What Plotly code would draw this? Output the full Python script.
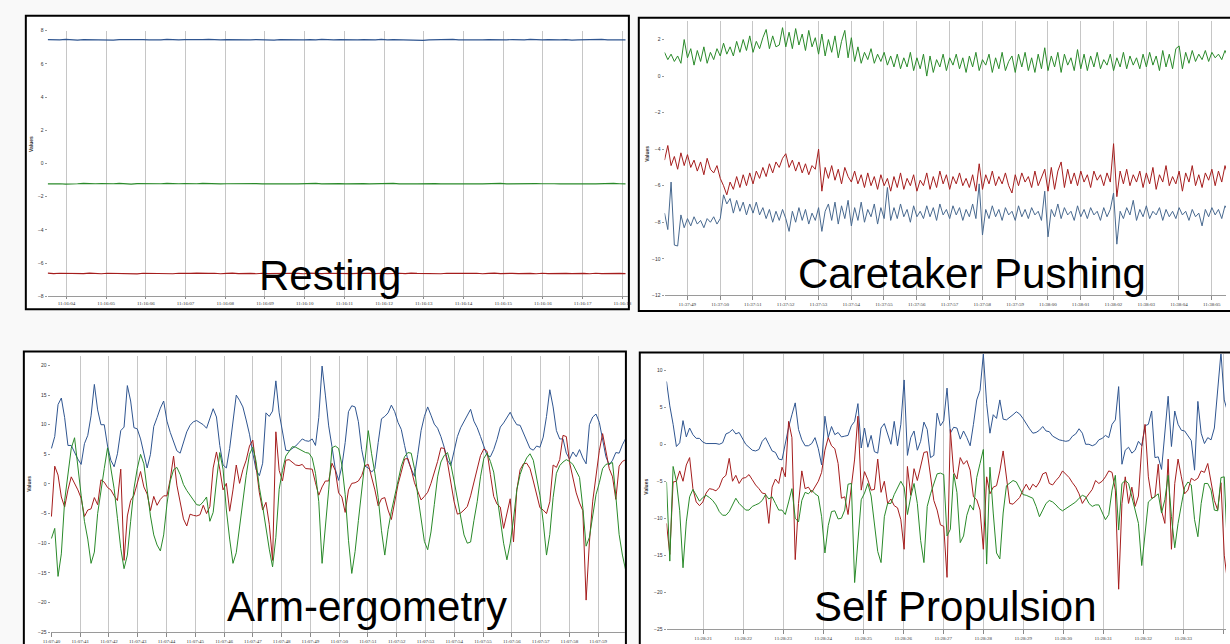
import numpy as np
import pandas as pd
import plotly.graph_objects as go

W, H = 1230, 644
DAY = "2021-03-15 "

# ---------------- DATA ----------------
# Panel 1: Resting (sampled every 0.15 s from 11:16:03.53)
rest_start, rest_dt = "11:16:03.53", 0.15
rest_ticks = ["11:16:04", "11:16:05", "11:16:06", "11:16:07", "11:16:08", "11:16:09", "11:16:10",
              "11:16:11", "11:16:12", "11:16:13", "11:16:14", "11:16:15", "11:16:16", "11:16:17", "11:16:18"]
rest_blue = [7.46,7.44,7.45,7.47,7.44,7.43,7.46,7.45,7.48,7.44,
             7.45,7.43,7.46,7.47,7.44,7.45,7.46,7.44,7.43,7.45,
             7.47,7.45,7.44,7.46,7.45,7.43,7.46,7.48,7.45,7.44,
             7.46,7.45,7.47,7.44,7.45,7.46,7.44,7.45,7.43,7.46,
             7.45,7.47,7.44,7.45,7.46,7.44,7.47,7.45,7.44,7.46,
             7.45,7.43,7.45,7.46,7.44,7.45,7.47,7.44,7.46,7.45,
             7.44,7.46,7.45,7.42,7.45,7.46,7.44,7.45,7.47,7.45,
             7.44,7.46,7.45,7.44,7.46,7.45,7.43,7.45,7.46,7.44,
             7.45,7.47,7.44,7.45,7.46,7.44,7.45,7.46,7.43,7.45,
             7.46,7.44,7.45,7.47,7.45,7.44,7.46,7.45]
rest_green = [-1.23,-1.21,-1.22,-1.24,-1.21,-1.22,-1.20,-1.23,-1.22,-1.21,
              -1.23,-1.22,-1.20,-1.22,-1.24,-1.21,-1.22,-1.23,-1.21,-1.22,
              -1.20,-1.23,-1.22,-1.21,-1.23,-1.22,-1.20,-1.22,-1.21,-1.23,
              -1.22,-1.21,-1.23,-1.20,-1.22,-1.21,-1.23,-1.22,-1.21,-1.22,
              -1.20,-1.22,-1.23,-1.21,-1.22,-1.20,-1.23,-1.21,-1.22,-1.21,
              -1.23,-1.22,-1.20,-1.21,-1.23,-1.22,-1.21,-1.22,-1.20,-1.23,
              -1.21,-1.22,-1.23,-1.21,-1.22,-1.21,-1.23,-1.22,-1.20,-1.22,
              -1.23,-1.21,-1.22,-1.23,-1.21,-1.22,-1.20,-1.23,-1.22,-1.21,
              -1.22,-1.23,-1.21,-1.22,-1.20,-1.22,-1.23,-1.21,-1.22,-1.23,
              -1.21,-1.22,-1.23,-1.21,-1.22,-1.20,-1.22,-1.23]
rest_red = [-6.60,-6.63,-6.61,-6.62,-6.64,-6.61,-6.63,-6.60,-6.62,-6.64,
            -6.61,-6.62,-6.60,-6.63,-6.62,-6.65,-6.61,-6.62,-6.63,-6.60,
            -6.62,-6.64,-6.61,-6.63,-6.62,-6.60,-6.63,-6.62,-6.61,-6.64,
            -6.62,-6.60,-6.63,-6.61,-6.62,-6.64,-6.61,-6.63,-6.62,-6.60,
            -6.63,-6.61,-6.62,-6.64,-6.60,-6.62,-6.63,-6.61,-6.62,-6.64,
            -6.61,-6.63,-6.62,-6.60,-6.62,-6.63,-6.61,-6.64,-6.62,-6.61,
            -6.63,-6.60,-6.62,-6.63,-6.61,-6.62,-6.64,-6.61,-6.62,-6.60,
            -6.63,-6.62,-6.61,-6.64,-6.62,-6.60,-6.63,-6.61,-6.62,-6.63,
            -6.61,-6.62,-6.64,-6.61,-6.63,-6.62,-6.60,-6.62,-6.63,-6.61,
            -6.62,-6.64,-6.61,-6.63,-6.62,-6.60,-6.62,-6.63]

# Panel 2: Caretaker Pushing (every 0.1 s from 11:37:48.305)
car_start, car_dt = "11:37:48.305", 0.1
car_ticks = ["11:37:49", "11:37:50", "11:37:51", "11:37:52", "11:37:53", "11:37:54", "11:37:55",
             "11:37:56", "11:37:57", "11:37:58", "11:37:59", "11:38:00", "11:38:01", "11:38:02",
             "11:38:03", "11:38:04", "11:38:05"]
car_green = [1.3,0.9,1.2,0.8,1.1,0.7,2.0,1.0,1.5,0.6,
             1.4,0.8,1.6,0.7,1.3,0.9,1.5,1.1,1.8,1.2,
             1.6,1.1,1.9,1.3,2.0,1.4,2.2,1.3,1.9,1.5,
             2.1,2.55,1.5,2.2,1.6,1.7,2.65,1.6,2.4,1.5,
             2.6,1.7,2.3,1.4,2.5,1.6,2.1,1.2,2.3,1.1,
             2.0,1.3,2.2,1.0,1.9,2.5,1.0,2.1,0.8,1.6,
             0.7,1.3,0.9,1.5,0.7,1.2,0.8,1.3,0.6,1.1,
             0.5,1.2,0.4,1.0,0.5,1.3,0.3,1.0,0.4,1.2,
             0.0,1.1,0.2,0.9,0.5,1.2,0.3,1.0,0.6,1.2,
             0.4,1.0,0.2,1.1,0.5,1.3,0.3,0.9,0.6,1.2,
             0.2,1.0,0.4,1.3,0.3,0.8,1.1,0.2,1.2,0.5,
             1.3,0.3,1.0,0.2,1.2,0.4,1.55,0.3,1.1,0.5,
             1.3,0.2,1.2,0.6,1.0,0.3,1.45,0.4,1.2,0.3,
             1.1,0.5,1.3,0.4,0.9,0.6,1.2,0.3,1.0,0.5,
             1.3,0.4,1.1,0.6,1.0,0.4,1.2,0.5,1.3,0.6,
             1.1,0.3,1.4,0.5,1.2,0.4,1.5,1.65,0.4,1.3,
             0.7,1.4,0.8,1.2,0.9,1.4,0.8,1.3,1.0,1.2,
             0.9,1.4,1.0]
car_red = [-4.6,-3.8,-4.9,-4.4,-5.1,-4.2,-4.9,-4.3,-5.0,-4.6,
           -5.2,-4.7,-5.4,-4.5,-5.1,-5.3,-4.9,-5.6,-6.0,-6.5,
           -5.8,-6.2,-5.5,-6.1,-5.4,-6.0,-5.3,-5.9,-5.2,-5.6,
           -5.0,-5.5,-4.8,-5.3,-4.7,-5.0,-4.5,-4.25,-5.0,-4.6,
           -5.2,-4.7,-5.3,-4.8,-5.4,-4.9,-5.1,-4.0,-6.3,-5.0,
           -5.6,-4.9,-5.7,-5.1,-5.9,-5.0,-5.5,-5.8,-5.2,-5.9,
           -5.4,-6.1,-5.3,-6.0,-5.5,-6.2,-5.4,-6.0,-5.6,-6.3,
           -5.5,-6.1,-5.3,-6.2,-5.6,-6.0,-5.4,-6.3,-5.7,-6.0,
           -5.3,-6.2,-5.5,-6.1,-5.2,-5.9,-5.4,-6.2,-5.5,-5.9,
           -5.3,-6.0,-5.6,-6.1,-5.4,-6.3,-4.8,-6.2,-5.4,-5.9,
           -5.2,-6.0,-5.5,-5.9,-5.3,-6.0,-6.4,-5.4,-6.0,-5.3,
           -5.8,-5.5,-6.1,-5.2,-6.0,-5.6,-5.1,-6.3,-5.0,-6.2,
           -5.2,-4.7,-6.1,-5.1,-5.9,-5.3,-6.0,-5.2,-5.8,-5.4,
           -6.1,-5.2,-5.7,-5.4,-6.0,-5.3,-5.8,-3.7,-6.6,-5.2,
           -5.9,-5.1,-6.0,-5.4,-5.8,-5.2,-6.1,-5.3,-5.9,-5.0,
           -6.2,-5.4,-5.8,-4.9,-6.0,-5.5,-5.9,-5.2,-6.3,-5.3,
           -5.8,-4.9,-6.0,-5.4,-6.1,-5.3,-5.7,-5.1,-6.0,-5.2,
           -5.8,-4.9,-5.5]
car_blue = [-7.5,-8.4,-5.8,-9.25,-9.3,-7.6,-8.3,-7.8,-8.2,-7.7,
            -8.1,-7.9,-8.3,-7.8,-8.0,-7.7,-8.1,-7.8,-6.5,-7.0,
            -6.7,-7.5,-6.8,-7.4,-6.9,-7.6,-7.0,-7.5,-6.9,-7.6,
            -7.2,-7.8,-7.3,-8.0,-7.4,-7.9,-7.3,-7.8,-8.5,-7.4,
            -8.0,-7.2,-7.9,-7.3,-8.1,-7.5,-7.9,-7.2,-8.5,-7.4,
            -7.0,-7.9,-6.9,-8.1,-7.1,-7.8,-6.8,-8.2,-7.2,-7.9,
            -6.9,-8.0,-7.3,-7.7,-7.0,-8.1,-7.2,-7.8,-6.1,-7.9,
            -7.2,-7.8,-7.0,-7.7,-7.3,-8.0,-7.1,-7.7,-7.4,-7.8,
            -7.1,-7.7,-7.2,-7.9,-7.0,-7.6,-7.3,-7.8,-7.1,-7.6,
            -7.2,-7.9,-7.3,-7.7,-7.0,-7.8,-5.9,-8.7,-7.3,-7.8,
            -7.1,-7.7,-7.3,-7.9,-7.2,-7.6,-7.4,-7.9,-7.1,-7.7,
            -7.3,-7.8,-7.2,-7.6,-7.4,-7.9,-6.3,-8.8,-7.3,-7.7,
            -7.0,-7.8,-7.2,-7.6,-7.4,-7.9,-7.1,-7.7,-7.3,-7.8,
            -7.2,-7.6,-7.4,-7.9,-7.2,-7.7,-7.3,-6.4,-9.2,-7.4,
            -7.8,-7.2,-7.6,-6.8,-7.9,-7.3,-7.7,-7.1,-7.8,-7.4,
            -7.6,-7.2,-7.9,-7.3,-7.7,-7.4,-7.8,-7.2,-7.6,-7.4,
            -7.9,-7.3,-7.7,-7.5,-8.2,-7.3,-7.7,-7.2,-7.6,-7.3,
            -7.8,-7.1,-7.4]

# Panel 3: Arm-ergometry (every 0.1147 s from 11:07:40)
arm_start, arm_dt = "11:07:40", 0.1147
arm_ticks = ["11:07:40", "11:07:41", "11:07:42", "11:07:43", "11:07:44", "11:07:45", "11:07:46",
             "11:07:47", "11:07:48", "11:07:49", "11:07:50", "11:07:51", "11:07:52", "11:07:53",
             "11:07:54", "11:07:55", "11:07:56", "11:07:57", "11:07:58", "11:07:59"]
arm_blue = [6.0,8.0,13.4,14.5,11.2,6.5,6.5,5.3,4.2,3.3,
            6.8,8.2,11.5,16.8,12.5,10.0,10.0,6.4,4.0,2.9,
            5.1,9.0,9.6,16.6,14.0,9.5,9.3,7.6,5.4,2.7,
            5.0,9.7,11.2,12.8,14.0,10.6,8.7,7.3,5.6,5.2,
            7.2,8.8,9.9,10.5,10.7,10.4,10.0,9.4,11.2,12.7,
            11.3,6.5,3.2,2.7,6.0,11.0,15.0,14.1,13.0,10.8,
            8.4,5.2,2.4,1.4,3.5,12.0,11.4,12.3,17.4,12.0,
            8.8,5.7,5.6,6.0,6.4,7.0,7.6,7.3,7.2,7.6,
            6.5,11.2,19.9,15.0,9.8,6.3,2.5,0.6,3.0,7.0,
            12.2,13.2,13.0,10.5,5.8,3.0,2.7,2.0,2.6,7.0,
            11.0,11.4,12.0,13.3,12.2,10.4,9.2,6.5,4.0,2.5,
            1.3,5.0,9.0,11.4,13.0,11.6,10.1,9.4,8.0,6.2,
            4.0,3.1,5.8,8.0,9.5,10.5,11.7,12.6,10.6,9.5,
            8.0,6.3,4.8,4.6,5.8,7.5,9.6,10.3,11.2,12.1,
            10.9,10.0,9.9,8.6,7.0,6.0,5.7,6.4,6.2,7.9,
            11.4,15.9,13.0,9.0,7.6,7.6,5.2,4.2,5.4,4.6,
            5.8,4.4,3.4,10.0,11.3,11.8,10.4,7.2,4.6,3.2,
            4.0,5.3,5.2,6.6,7.7]
arm_green = [-9.2,-7.5,-15.6,-11.8,-2.8,1.8,6.0,7.8,2.7,-1.9,
             -6.3,-9.3,-13.4,-11.5,-5.0,-0.8,2.6,6.1,3.0,-0.8,
             -5.8,-10.9,-14.3,-12.0,-6.3,-0.8,2.6,5.0,3.4,-1.3,
             -5.4,-8.6,-10.3,-11.3,-8.6,-3.4,0.5,2.4,2.8,1.6,
             -0.1,-1.1,-1.8,-2.7,-3.5,-3.6,-3.0,-2.2,-6.3,-4.8,
             0.5,5.3,2.5,-4.4,-9.3,-13.4,-11.6,-7.2,-2.7,1.4,
             5.0,6.2,3.8,-0.6,-3.8,-7.5,-11.0,-14.0,-9.0,-0.9,
             2.3,4.7,5.6,6.3,6.2,5.9,5.5,5.3,5.2,4.4,
             1.8,-3.0,-13.4,-7.5,-1.0,6.1,6.4,6.0,3.2,-1.8,
             -9.5,-15.1,-11.4,-6.2,-1.2,4.8,9.0,5.1,1.8,-2.3,
             -7.9,-12.0,-7.7,-4.6,-2.0,0.7,3.0,4.6,5.3,5.2,
             2.6,-2.0,-5.6,-9.7,-11.1,-8.1,-3.5,1.2,3.7,4.8,
             5.3,3.3,0.5,-2.6,-5.9,-8.6,-10.0,-9.8,-6.2,-3.0,
             1.2,4.3,5.2,3.8,2.0,-1.8,-5.8,-10.0,-12.8,-10.0,
             -5.9,-1.0,1.6,3.2,4.4,5.1,4.0,1.3,-1.9,-6.4,
             -12.0,-8.5,-2.3,1.8,3.1,3.7,4.1,3.8,3.3,2.2,
             1.1,-4.0,-10.5,-9.0,-5.0,-1.8,0.2,2.6,3.3,3.5,
             3.6,-2.0,-8.5,-12.0,-14.6]
arm_red = [-5.5,3.0,1.5,-2.2,-3.9,-1.0,1.2,0.1,-1.0,-2.4,
           -5.5,-4.4,-4.2,-2.3,-3.5,0.7,0.3,-0.6,-1.0,-2.0,
           -2.8,2.5,-12.9,-5.4,-2.8,-1.9,0.0,2.1,-0.5,-1.7,
           -4.5,-2.1,-3.6,-2.6,-2.0,-2.0,0.8,4.7,-0.2,-3.2,
           -5.9,-7.1,-5.1,-5.3,-5.4,-5.2,-3.6,-5.0,-3.8,2.7,
           5.4,2.5,-1.0,0.1,-4.6,-1.0,3.2,0.1,2.4,4.0,
           6.4,7.4,3.0,-1.5,-4.4,-3.1,-6.8,-12.9,8.8,2.3,
           0.5,4.0,4.1,3.7,3.2,3.1,3.3,2.6,2.6,2.5,
           0.2,-1.9,-0.5,0.5,0.5,3.5,2.3,-1.5,-2.2,-4.8,
           -1.0,0.1,0.2,0.5,1.4,3.1,3.3,1.2,-1.0,-3.7,
           -2.5,-2.3,-4.4,-6.0,-3.1,-0.1,2.0,4.2,4.3,2.5,
           0.2,-1.4,-2.7,-2.1,-1.4,0.1,1.9,3.8,6.1,6.0,
           3.6,0.5,-3.0,-5.1,-4.9,-4.4,-3.8,-2.0,0.3,2.9,
           4.8,5.9,5.5,1.6,-2.1,-3.4,-3.9,-7.5,-5.0,-2.5,
           -9.8,-1.0,2.4,3.4,3.5,2.6,0.5,-2.0,-4.0,-4.4,
           -5.0,-3.0,3.2,2.8,4.1,8.2,8.0,3.6,1.2,-1.5,
           -3.2,-4.5,-19.6,-9.8,-2.9,1.8,5.6,8.5,5.7,2.6,
           1.2,-2.6,3.0,3.8,4.1]

# Panel 4: Self Propulsion (every 0.0825 s from 11:28:20.084)
sp_start, sp_dt = "11:28:20.084", 0.0825
sp_ticks = ["11:28:21", "11:28:22", "11:28:23", "11:28:24", "11:28:25", "11:28:26", "11:28:27",
            "11:28:28", "11:28:29", "11:28:30", "11:28:31", "11:28:32", "11:28:33", "11:28:34"]
sp_blue = [8.5,5.2,2.7,-0.3,0.2,3.2,1.0,2.2,1.3,0.8,
           0.8,0.3,0.1,0.1,0.2,0.1,0.0,0.2,1.4,1.6,
           2.0,1.4,1.6,0.8,0.0,-0.4,-0.8,-0.9,-0.7,0.4,
           0.9,0.0,-0.9,-1.1,-2.0,-2.1,0.2,2.3,4.0,5.6,
           2.0,0.6,-0.2,-0.2,0.1,0.9,-0.6,-2.8,3.8,0.9,
           2.4,1.3,1.6,1.0,1.1,1.2,2.5,3.1,5.5,-0.5,
           2.2,-0.4,1.2,-1.0,-1.2,2.2,2.8,1.4,0.0,3.1,
           -0.2,2.7,8.7,-1.5,0.9,1.8,-0.8,0.4,3.0,2.0,
           -1.8,-1.5,4.2,2.5,3.2,7.6,1.5,2.3,2.2,0.7,
           1.8,0.9,-0.2,2.7,6.0,7.3,12.2,5.5,1.5,4.0,
           3.5,6.0,3.4,3.3,3.6,4.0,4.4,4.1,3.5,2.7,
           2.1,1.5,1.6,1.9,2.4,1.8,1.7,1.1,0.8,0.6,
           0.5,0.4,0.5,1.1,1.4,2.1,1.5,0.0,0.0,-0.2,
           0.0,0.6,0.8,1.2,0.9,2.7,3.3,7.8,-2.7,-0.8,
           -0.4,-1.2,-0.8,0.4,-0.2,2.5,2.7,4.5,-1.8,-1.7,
           -3.4,1.5,6.5,-0.3,4.5,2.7,1.9,1.8,1.2,0.5,
           -3.5,5.8,1.5,0.1,0.9,0.6,2.2,7.6,12.4,6.0,
           4.4]
sp_green = [-5.1,-15.8,-3.0,-5.0,-9.0,-16.7,-10.5,-7.1,-6.1,-7.0,
            -7.7,-7.2,-6.9,-7.2,-7.6,-8.2,-9.1,-9.6,-9.6,-9.1,
            -8.3,-7.3,-8.0,-8.4,-8.9,-8.9,-8.4,-8.2,-8.0,-7.6,
            -6.8,-7.4,-7.1,-8.0,-8.9,-8.9,-9.5,-7.8,-6.0,-10.0,
            -10.5,-7.6,-6.5,-6.7,-6.2,-6.7,-7.0,-9.8,-14.7,-11.0,
            -9.1,-9.0,-10.1,-10.0,-8.9,-5.4,-5.3,-18.7,-13.5,-7.5,
            -6.6,-5.3,-7.0,-11.0,-14.5,-16.0,-9.8,-8.0,-8.0,-6.8,
            -5.8,-5.0,-5.8,-9.5,-7.1,-5.3,-8.0,-13.0,-16.0,-8.4,
            -6.7,-5.3,-4.0,-3.9,-4.1,-12.4,-11.5,-4.0,-6.5,-13.3,
            -12.4,-9.6,-8.2,-8.9,-4.5,-2.6,-0.7,-16.2,-3.1,-9.3,
            -14.7,-15.5,-9.3,-5.6,-5.3,-4.9,-5.1,-5.9,-6.8,-6.9,
            -7.1,-7.3,-8.4,-9.8,-8.9,-8.0,-7.6,-7.8,-8.2,-8.7,
            -9.0,-8.7,-8.4,-8.2,-7.8,-7.3,-6.9,-7.1,-8.0,-8.4,
            -8.2,-8.2,-9.2,-10.2,-9.5,-6.2,-4.2,-11.6,-5.3,-4.9,
            -5.3,-7.1,-9.3,-10.7,-16.4,-12.4,-7.8,-7.4,-7.1,-6.7,
            -9.3,-7.5,-4.2,-9.8,-14.0,-10.7,-8.2,-5.8,-5.1,-5.5,
            -10.2,-12.5,-8.0,-5.3,-5.3,-6.2,-8.9,-9.0,-4.5,-4.4,
            -14.7]
sp_red = [-10.7,-14.9,-5.1,-5.0,-3.6,-5.0,-2.8,-1.8,-6.0,-7.8,
          -8.3,-7.8,-6.6,-6.0,-6.1,-6.3,-5.8,-4.6,-4.2,-1.9,
          -5.0,-4.2,-5.3,-4.6,-4.5,-4.1,-4.8,-5.5,-6.0,-6.6,
          -6.7,-10.7,-5.8,-4.7,-5.3,-3.1,-4.4,3.1,0.9,-15.6,
          -8.0,-3.6,-6.0,-5.8,-6.5,-5.8,-5.0,-3.8,-0.8,0.9,
          -0.2,-0.6,-2.6,-7.3,-7.1,-9.5,-5.7,-2.0,3.8,-6.2,
          -3.7,-4.8,-6.2,-6.1,-2.0,-6.5,-5.0,-8.0,-7.4,-8.3,
          -8.6,-10.2,-14.2,-3.0,-6.9,-3.3,-4.9,-2.9,-1.1,-1.0,
          -4.6,-7.6,-8.9,-10.9,-11.1,-18.0,2.0,-3.8,-4.7,-1.8,
          -2.7,-2.2,-3.5,-7.1,-7.5,-8.9,-14.2,-4.4,-6.7,-5.8,
          -5.6,-3.6,-0.9,-4.5,-8.0,-8.1,-7.7,-7.2,-6.2,-5.4,
          -6.2,-5.4,-5.8,-5.1,-4.0,-3.8,-5.3,-5.5,-4.9,-4.4,
          -3.6,-4.0,-4.5,-5.2,-5.8,-6.7,-8.0,-7.3,-6.7,-6.1,
          -4.9,-5.3,-5.0,-4.4,-3.6,-3.8,-6.2,-19.6,-8.0,-4.4,
          -8.0,-5.8,-8.4,-7.0,-0.4,2.7,-4.4,-7.3,-7.1,-2.7,
          -9.0,-10.7,-2.0,-14.2,-5.3,-2.0,-4.4,-6.7,-6.2,-4.6,
          -4.9,-4.6,-3.6,-3.8,-2.6,-4.9,-7.6,-8.9,-5.2,-15.0,
          -18.7]

# ---------------- HELPERS ----------------
def times(start, dt, n):
    return pd.Timestamp(DAY + start) + pd.to_timedelta(np.arange(n) * dt, unit="s")

def fx(px):
    return px / W

def fy(py):
    return 1 - py / H

BLUE, GREEN, RED = "#2f5590", "#2a8a2a", "#a51d1d"
GRID = "#c6c6c6"
TICKFONT = dict(family="Liberation Serif, Times New Roman, serif", size=5, color="#333")
YFONT = dict(family="Liberation Sans, Arial, sans-serif", size=5, color="#333")
LABELFONT = dict(family="Liberation Sans, Arial, sans-serif", size=42, color="black")

panels = [
    # name, start, dt, ticks, series, plot box (l, r, top, bottom), y range, y ticks, x range, border box, label pos, Values pos
    dict(label="Resting", start=rest_start, dt=rest_dt, ticks=rest_ticks,
         series=[(rest_blue, BLUE), (rest_red, RED), (rest_green, GREEN)], lw=1.2,
         box=(40, 626, 28, 297), yr=[-8, 8], yt=[-8, -6, -4, -2, 0, 2, 4, 6, 8],
         xr=("11:16:03.526", "11:16:18.14"), border=(18, 627, 13, 310),
         lab=(325, 276), val=(23, 143), xticks_out=False),
    dict(label="Caretaker Pushing", start=car_start, dt=car_dt, ticks=car_ticks,
         series=[(car_blue, "#48698f"), (car_red, RED), (car_green, GREEN)], lw=1.0,
         box=(663, 1230, 18.5, 296), yr=[-12, 3.0], yt=[-12, -10, -8, -6, -4, -2, 0, 2],
         xr=("11:37:48.305", "11:38:05.435"), border=(637, 1245, 15, 312),
         lab=(974, 274), val=(645, 153), xticks_out=True),
    dict(label="Arm-ergometry", start=arm_start, dt=arm_dt, ticks=arm_ticks,
         series=[(arm_blue, BLUE), (arm_red, RED), (arm_green, GREEN)], lw=1.0,
         box=(43, 623, 357, 637), yr=[-25, 21.67], yt=[-25, -20, -15, -10, -5, 0, 5, 10, 15, 20],
         xr=("11:07:39.97", "11:07:59.93"), border=(16, 624, 353, 660),
         lab=(363, 611), val=(21, 487), xticks_out=True),
    dict(label="Self Propulsion", start=sp_start, dt=sp_dt, ticks=sp_ticks,
         series=[(sp_blue, BLUE), (sp_red, RED), (sp_green, GREEN)], lw=1.0,
         box=(665, 1230, 355.5, 634), yr=[-25, 12.2], yt=[-25, -20, -15, -10, -5, 0, 5, 10],
         xr=("11:28:20.084", "11:28:34.07"), border=(638, 1245, 354, 660),
         lab=(957, 611), val=(644, 490), xticks_out=True),
]

fig = go.Figure()
layout = dict(width=W, height=H, margin=dict(l=0, r=0, t=0, b=0),
              paper_bgcolor="#f9f9f9", plot_bgcolor="rgba(0,0,0,0)",
              showlegend=False, shapes=[], annotations=[])

for k, p in enumerate(panels, start=1):
    xa = "x" if k == 1 else f"x{k}"
    ya = "y" if k == 1 else f"y{k}"
    for vals, col in p["series"]:
        fig.add_trace(go.Scatter(x=times(p["start"], p["dt"], len(vals)), y=vals,
                                 mode="lines", line=dict(color=col, width=p["lw"]),
                                 xaxis=xa, yaxis=ya, hoverinfo="skip"))
    l, r, t, b = p["box"]
    layout["xaxis" if k == 1 else f"xaxis{k}"] = dict(
        type="date", domain=[fx(l), fx(r)], anchor=ya,
        range=[DAY + p["xr"][0], DAY + p["xr"][1]],
        tickmode="array", tickvals=[DAY + s for s in p["ticks"]], ticktext=p["ticks"],
        showgrid=True, gridcolor=GRID, gridwidth=1, zeroline=False,
        showline=True, linecolor="#9a9a9a", linewidth=1,
        ticks="outside", ticklen=4 if p["xticks_out"] else 2, tickcolor="#8a8a8a",
        tickfont=TICKFONT, fixedrange=True)
    layout["yaxis" if k == 1 else f"yaxis{k}"] = dict(
        domain=[fy(b), fy(t)], anchor=xa, range=p["yr"],
        tickmode="array", tickvals=p["yt"], showgrid=False, zeroline=False,
        showline=False, ticks="outside", ticklen=2, tickcolor="#9a9a9a",
        tickfont=YFONT, fixedrange=True)
    bl, br, bt, bb = p["border"]
    layout["shapes"].append(dict(type="rect", xref="paper", yref="paper",
                                 x0=fx(bl), x1=fx(br), y0=fy(bb), y1=fy(bt),
                                 line=dict(color="black", width=2), fillcolor="white",
                                 layer="below"))
    layout["annotations"].append(dict(text=p["label"], xref="paper", yref="paper",
                                      x=fx(p["lab"][0]), y=fy(p["lab"][1]),
                                      xanchor="center", yanchor="middle",
                                      showarrow=False, font=LABELFONT))
    layout["annotations"].append(dict(text="<b>Values</b>", xref="paper", yref="paper",
                                      x=fx(p["val"][0]), y=fy(p["val"][1]),
                                      xanchor="center", yanchor="middle", textangle=-90,
                                      showarrow=False, font=YFONT))

fig.update_layout(**layout)
fig.write_html("out.html", include_plotlyjs=True,
               config={"displayModeBar": False, "staticPlot": True},
               post_script="document.body.style.margin='0px';document.body.style.overflow='hidden';")
